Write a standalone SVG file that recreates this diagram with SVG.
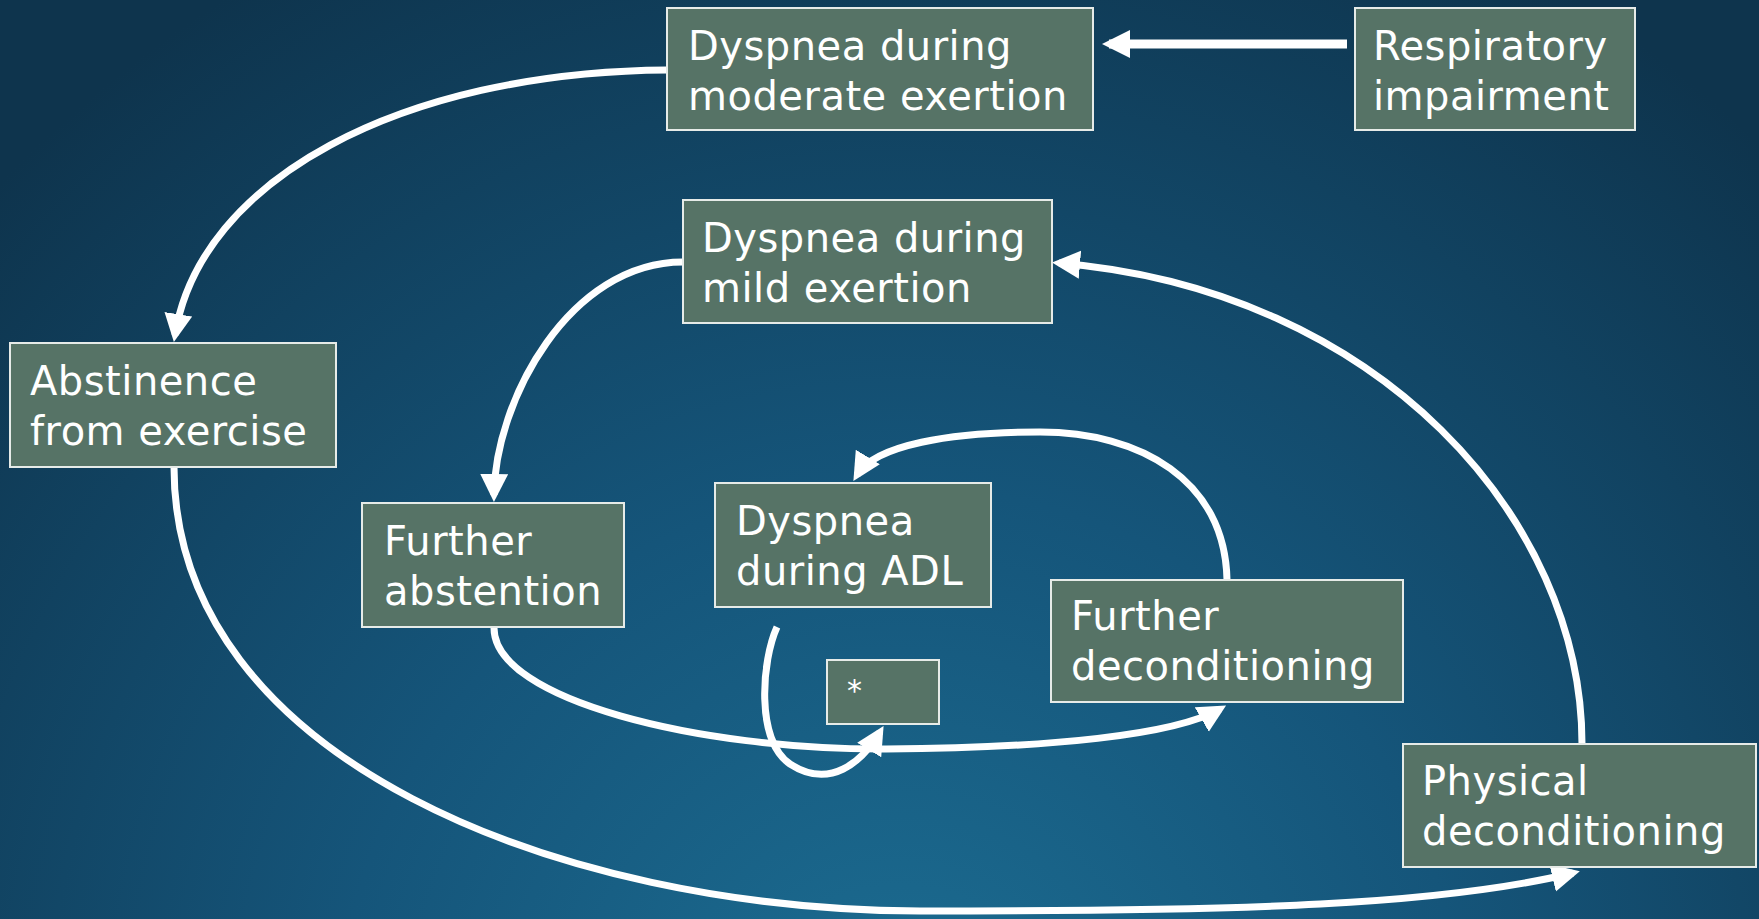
<svg xmlns="http://www.w3.org/2000/svg" width="1759" height="919" viewBox="0 0 1759 919">
<style>
.box rect{fill:#567366;stroke:#e6ebe8;stroke-width:2}
.box text{fill:#ffffff;font-family:"DejaVu Sans",sans-serif;font-size:40px;letter-spacing:0.5px}
.conn path{fill:none;stroke:#ffffff;stroke-width:7;stroke-linecap:butt}
</style>
<defs>
<radialGradient id="bg" cx="900" cy="1050" r="1250" gradientUnits="userSpaceOnUse">
<stop offset="0" stop-color="#1c6d92"/>
<stop offset="0.45" stop-color="#15557a"/>
<stop offset="1" stop-color="#0e344d"/>
</radialGradient>
<marker id="ah" markerUnits="userSpaceOnUse" markerWidth="30" markerHeight="30" refX="21" refY="14" orient="auto">
<path d="M0,0 L28,14 L0,28 Z" fill="#ffffff"/>
</marker>
</defs>
<rect x="0" y="0" width="1759" height="919" fill="url(#bg)"/>
<g id="connectors" class="conn">
<path d="M1347,44 L1109,44" style="stroke-width:9" marker-end="url(#ah)"/>
<path d="M667,70 C400,72 200,180 175,335" marker-end="url(#ah)"/>
<path d="M174,467 C174,760 560,910 920,911 C1250,911 1440,905 1573,873" marker-end="url(#ah)"/>
<path d="M1582,744 C1582,520 1380,290 1059,263" marker-end="url(#ah)"/>
<path d="M683,262 C570,262 495,400 494,495" marker-end="url(#ah)"/>
<path d="M494,628 C494,700 700,750 886,749 C1050,748 1175,735 1220,709" marker-end="url(#ah)"/>
<path d="M1227,580 C1225,480 1140,432 1040,432 C950,432 875,445 857,475" marker-end="url(#ah)"/>
<path d="M777,627 C762,660 755,740 790,764 C830,790 862,762 880,732" marker-end="url(#ah)"/>
</g>
<g id="n-moderate" class="box"><rect x="667" y="8" width="426" height="122"/><text x="688" y="60">Dyspnea during</text><text x="688" y="110">moderate exertion</text></g>
<g id="n-respiratory" class="box"><rect x="1355" y="8" width="280" height="122"/><text x="1373" y="60">Respiratory</text><text x="1373" y="110">impairment</text></g>
<g id="n-abstinence" class="box"><rect x="10" y="343" width="326" height="124"/><text x="30" y="395">Abstinence</text><text x="30" y="445">from exercise</text></g>
<g id="n-mild" class="box"><rect x="683" y="200" width="369" height="123"/><text x="702" y="252">Dyspnea during</text><text x="702" y="302">mild exertion</text></g>
<g id="n-further-abstention" class="box"><rect x="362" y="503" width="262" height="124"/><text x="384" y="555">Further</text><text x="384" y="605">abstention</text></g>
<g id="n-adl" class="box"><rect x="715" y="483" width="276" height="124"/><text x="736" y="535">Dyspnea</text><text x="736" y="585">during ADL</text></g>
<g id="n-further-decond" class="box"><rect x="1051" y="580" width="352" height="122"/><text x="1071" y="630">Further</text><text x="1071" y="680">deconditioning</text></g>
<g id="n-star" class="box"><rect x="827" y="660" width="112" height="64"/><text x="847" y="701" style="font-size:30px">*</text></g>
<g id="n-physical" class="box"><rect x="1403" y="744" width="353" height="123"/><text x="1422" y="795">Physical</text><text x="1422" y="845">deconditioning</text></g>
</svg>
